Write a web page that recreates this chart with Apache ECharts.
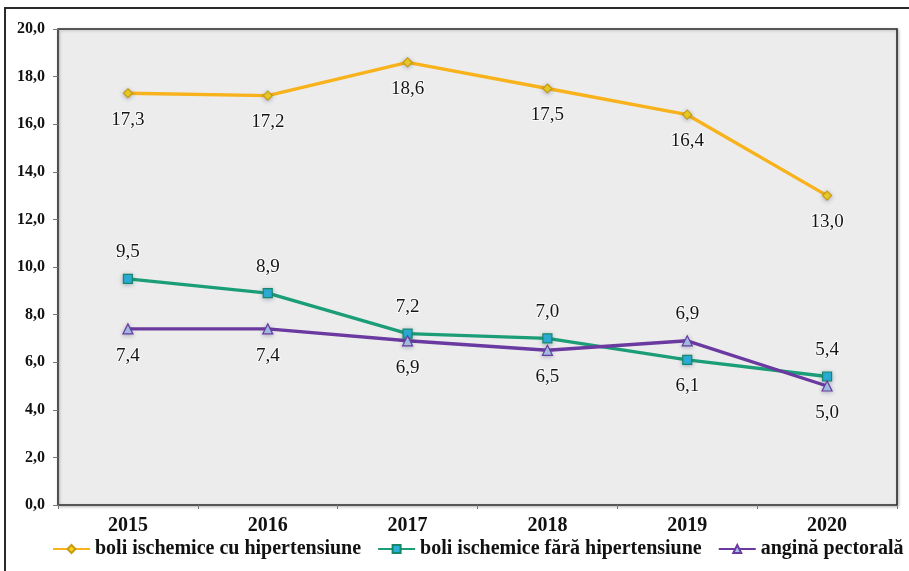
<!DOCTYPE html>
<html>
<head>
<meta charset="utf-8">
<script src="https://cdn.jsdelivr.net/npm/echarts@6/dist/echarts.min.js"></script>
<style>
  html, body { margin: 0; padding: 0; background: #ffffff; }
  #chart { width: 909px; height: 571px; }
</style>
</head>
<body>
<div id="chart"></div>
<script>
// Years on the category axis
const years = ['2015', '2016', '2017', '2018', '2019', '2020'];

// Series values
const seriesNames = [
  'boli ischemice cu hipertensiune',
  'boli ischemice fără hipertensiune',
  'angină pectorală'
];
const cuHipertensiune = [17.3, 17.2, 18.6, 17.5, 16.4, 13.0];
const faraHipertensiune = [9.5, 8.9, 7.2, 7.0, 6.1, 5.4];
const anginaPectorala = [7.4, 7.4, 6.9, 6.5, 6.9, 5.0];

// Label placement for each point (above / below the marker)
const posCu = ['bottom', 'bottom', 'bottom', 'bottom', 'bottom', 'bottom'];
const posFara = ['top', 'top', 'top', 'top', 'bottom', 'top'];
const posAngina = ['bottom', 'bottom', 'bottom', 'bottom', 'top', 'bottom'];

const serif = '"Liberation Serif", "Times New Roman", serif';
const fmt = v => v.toFixed(1).replace('.', ',');

function points(values, positions) {
  return values.map((v, i) => ({ value: v, label: { position: positions[i] } }));
}

function lineSeries(name, values, positions, lineColor, symbol, fill, border) {
  return {
    name: name,
    type: 'line',
    data: points(values, positions),
    symbol: symbol,
    symbolSize: symbol === 'triangle' ? 10 : 9,
    showAllSymbol: true,
    lineStyle: { color: lineColor, width: 3.4 },
    itemStyle: {
      color: fill,
      borderColor: border,
      borderWidth: 1.2,
      shadowColor: 'rgba(60,80,120,0.35)',
      shadowBlur: 4,
      shadowOffsetY: 1
    },
    label: {
      show: true,
      distance: 12,
      fontFamily: serif,
      fontSize: 19,
      color: '#151515',
      textBorderColor: 'rgba(255,255,255,0.8)',
      textBorderWidth: 2,
      formatter: p => fmt(p.value)
    },
    emphasis: { disabled: true },
    animation: false
  };
}

const chart = echarts.init(document.getElementById('chart'));
chart.setOption({
  animation: false,
  backgroundColor: '#ffffff',
  graphic: [{
    type: 'rect',
    shape: { x: 5, y: 8, width: 1000, height: 700 },
    style: { fill: 'none', stroke: '#2a2a2a', lineWidth: 2 },
    z: -1
  }],
  grid: {
    left: 58, right: 12, top: 29, bottom: 66,
    show: true,
    backgroundColor: '#ececec',
    borderColor: '#2b2b2b',
    borderWidth: 1.6,
    shadowColor: 'rgba(0,0,0,0.25)',
    shadowBlur: 3,
    shadowOffsetX: 1,
    shadowOffsetY: 1
  },
  legend: {
    bottom: 7,
    left: 52,
    width: 880,
    padding: [5, 0, 5, 0],
    itemWidth: 37,
    itemHeight: 10,
    itemGap: 16,
    textStyle: { fontFamily: serif, fontWeight: 'bold', fontSize: 20, color: '#111' },
    data: seriesNames
  },
  xAxis: {
    type: 'category',
    data: years,
    boundaryGap: true,
    axisLine: { show: true, lineStyle: { color: '#555', width: 1.2 } },
    axisTick: { show: true, length: 4, lineStyle: { color: '#777' } },
    axisLabel: { fontFamily: serif, fontWeight: 'bold', fontSize: 20, color: '#111', margin: 11 },
    splitLine: { show: false }
  },
  yAxis: {
    type: 'value',
    min: 0,
    max: 20,
    interval: 2,
    axisLine: { show: true, lineStyle: { color: '#555', width: 1.2 } },
    axisTick: { show: true, length: 5, lineStyle: { color: '#777' } },
    axisLabel: {
      fontFamily: serif, fontWeight: 'bold', fontSize: 16, color: '#111', margin: 13,
      formatter: v => fmt(v)
    },
    splitLine: { show: false }
  },
  series: [
    lineSeries(seriesNames[0], cuHipertensiune, posCu, '#f8b21c', 'diamond', '#f7d51d', '#c99a10'),
    lineSeries(seriesNames[1], faraHipertensiune, posFara, '#1b9e77', 'rect', '#2bb0d8', '#14896a'),
    lineSeries(seriesNames[2], anginaPectorala, posAngina, '#6a3aa0', 'triangle', '#a9c4ec', '#6a3aa0')
  ]
});
</script>
</body>
</html>
